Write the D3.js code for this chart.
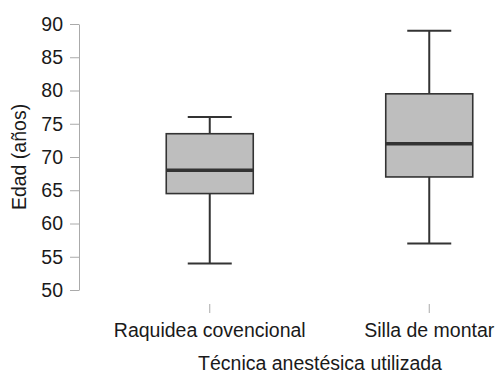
<!DOCTYPE html>
<html>
<head>
<meta charset="utf-8">
<script src="https://cdn.jsdelivr.net/npm/d3@7"></script>
<style>
  body { margin: 0; background: #fff; }
  svg { display: block; font-family: "Liberation Sans", Arial, sans-serif; }
</style>
</head>
<body>
<div id="chart"></div>
<script>
// groups and five-number summaries
var groups = ['Raquidea covencional', 'Silla de montar'];
var mins = [54, 57];
var q1s = [64.5, 67];
var medians = [68, 72];
var q3s = [73.5, 79.5];
var maxs = [76, 89];
var yTicks = [50, 55, 60, 65, 70, 75, 80, 85, 90];

var width = 496, height = 374;
var margin = {top: 24, right: 24, bottom: 84, left: 79};
var fontSize = '19.5px';

var svg = d3.select('#chart')
	.append('svg')
	.attr('width', width)
	.attr('height', height);

var y = d3.scaleLinear()
	.domain([50, 90])
	.range([height - margin.bottom, margin.top]);

var x = d3.scaleBand()
	.domain(groups)
	.range([100, 539])
	.paddingInner(0)
	.paddingOuter(0);

var boxW = 87, capW = 44;

// y axis
var yAxis = svg.append('g')
	.attr('transform', 'translate(' + margin.left + ',0)')
	.call(d3.axisLeft(y).tickValues(yTicks).tickSize(9).tickSizeOuter(0).tickPadding(7));
yAxis.select('.domain').attr('stroke', '#aaa');
yAxis.selectAll('.tick line').attr('stroke', '#aaa');
yAxis.selectAll('text')
	.style('font-size', fontSize)
	.attr('fill', '#1a1a1a');

// x axis (ticks only)
var xAxis = svg.append('g')
	.attr('transform', 'translate(0,' + (y(50) + 14) + ')')
	.call(d3.axisBottom(x).tickSize(9).tickPadding(10).tickSizeOuter(0));
xAxis.select('.domain').remove();
xAxis.selectAll('.tick line').attr('stroke', '#aaa');
xAxis.selectAll('text')
	.style('font-size', fontSize)
	.attr('fill', '#1a1a1a');

// axis titles
svg.append('text')
	.attr('x', 320)
	.attr('y', 370)
	.attr('text-anchor', 'middle')
	.style('font-size', fontSize)
	.attr('fill', '#1a1a1a')
	.text('Técnica anestésica utilizada');

svg.append('text')
	.attr('transform', 'translate(26,' + ((y(50) + y(90)) / 2) + ') rotate(-90)')
	.attr('text-anchor', 'middle')
	.style('font-size', fontSize)
	.attr('fill', '#1a1a1a')
	.text('Edad (años)');

// boxes
var stroke = '#333';
var box = svg.selectAll('.box')
	.data(groups)
	.enter()
	.append('g')
	.attr('class', 'box')
	.attr('transform', function(d) {
		return 'translate(' + (x(d) + x.bandwidth() / 2) + ',0)';
	});

// whiskers
box.append('line')
	.attr('x1', 0).attr('x2', 0)
	.attr('y1', function(d, i) { return y(maxs[i]); })
	.attr('y2', function(d, i) { return y(q3s[i]); })
	.attr('stroke', stroke).attr('stroke-width', 2);
box.append('line')
	.attr('x1', 0).attr('x2', 0)
	.attr('y1', function(d, i) { return y(q1s[i]); })
	.attr('y2', function(d, i) { return y(mins[i]); })
	.attr('stroke', stroke).attr('stroke-width', 2);
box.append('line')
	.attr('x1', -capW / 2).attr('x2', capW / 2)
	.attr('y1', function(d, i) { return y(maxs[i]); })
	.attr('y2', function(d, i) { return y(maxs[i]); })
	.attr('stroke', stroke).attr('stroke-width', 2);
box.append('line')
	.attr('x1', -capW / 2).attr('x2', capW / 2)
	.attr('y1', function(d, i) { return y(mins[i]); })
	.attr('y2', function(d, i) { return y(mins[i]); })
	.attr('stroke', stroke).attr('stroke-width', 2);

box.append('rect')
	.attr('x', -boxW / 2)
	.attr('width', boxW)
	.attr('y', function(d, i) { return y(q3s[i]); })
	.attr('height', function(d, i) { return y(q1s[i]) - y(q3s[i]); })
	.attr('fill', '#bebebe')
	.attr('stroke', stroke)
	.attr('stroke-width', 1.6);

box.append('line')
	.attr('x1', -boxW / 2).attr('x2', boxW / 2)
	.attr('y1', function(d, i) { return y(medians[i]); })
	.attr('y2', function(d, i) { return y(medians[i]); })
	.attr('stroke', stroke).attr('stroke-width', 3.5);
</script>
</body>
</html>
